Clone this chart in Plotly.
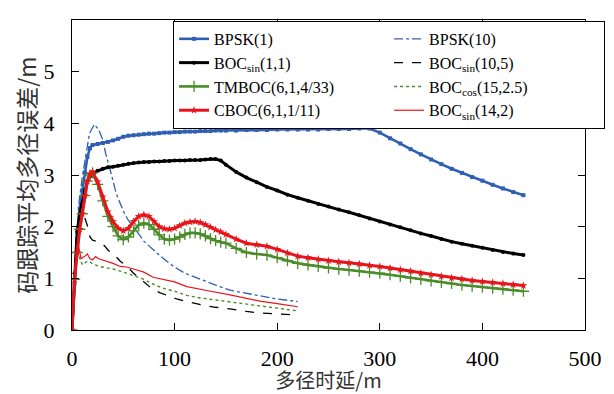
import plotly.graph_objects as go

# ---- data ----
x_main = [0, 2.5, 5, 7.5, 10, 12.5, 15, 17.5, 20, 25, 30, 35, 40, 45, 50, 55, 60, 65, 70, 75,
          80, 85, 90, 95, 100, 105, 110, 115, 120, 125, 130, 135, 140, 145, 150,
          160, 170, 180, 190, 200, 210, 220, 230, 240, 250, 260, 270, 280, 290, 300,
          310, 320, 330, 340, 350, 360, 370, 380, 390, 400, 410, 420, 430, 440]

bpsk1 = [0, 0.9, 1.75, 2.35, 2.7, 3.05, 3.35, 3.52, 3.58, 3.6, 3.62, 3.64, 3.67, 3.7, 3.74, 3.76, 3.77, 3.78, 3.79, 3.8,
         3.8, 3.81, 3.82, 3.82, 3.83, 3.83, 3.84, 3.84, 3.84, 3.85, 3.85, 3.85, 3.86, 3.86, 3.86,
         3.86, 3.87, 3.87, 3.87, 3.88, 3.88, 3.88, 3.88, 3.88, 3.89, 3.89, 3.89, 3.9, 3.9, 3.82,
         3.71, 3.61, 3.5, 3.4, 3.3, 3.21, 3.12, 3.04, 2.96, 2.89, 2.81, 2.74, 2.67, 2.61]

boc11 = [0, 1.1, 1.9, 2.25, 2.45, 2.7, 2.88, 2.97, 3.02, 3.08, 3.12, 3.15, 3.16, 3.18, 3.2, 3.22, 3.23, 3.24, 3.25, 3.25,
         3.26, 3.26, 3.27, 3.27, 3.28, 3.28, 3.28, 3.29, 3.29, 3.29, 3.3, 3.31, 3.31, 3.28, 3.2,
         3.06, 2.95, 2.86, 2.77, 2.7, 2.62, 2.56, 2.5, 2.44, 2.39, 2.33, 2.28, 2.22, 2.16, 2.1,
         2.04, 1.99, 1.93, 1.87, 1.82, 1.76, 1.71, 1.67, 1.63, 1.59, 1.55, 1.51, 1.48, 1.45]

tmboc = [0, 0.98, 1.5, 1.95, 2.25, 2.6, 2.88, 3.0, 3.04, 2.82, 2.5, 2.2, 2.0, 1.82, 1.75, 1.8, 1.92, 2.03, 2.07, 2.04,
         1.95, 1.84, 1.76, 1.74, 1.76, 1.8, 1.85, 1.88, 1.88, 1.86, 1.82, 1.77, 1.73, 1.7, 1.68,
         1.58, 1.5, 1.47, 1.45, 1.4, 1.34, 1.29, 1.26, 1.23, 1.2, 1.18, 1.16, 1.14, 1.12, 1.1,
         1.07, 1.04, 1.01, 0.98, 0.95, 0.92, 0.9, 0.87, 0.85, 0.83, 0.81, 0.79, 0.77, 0.75]

cboc = [0, 0.98, 1.5, 1.95, 2.25, 2.6, 2.88, 3.02, 3.06, 2.87, 2.58, 2.29, 2.1, 1.97, 1.92, 1.97, 2.1, 2.2, 2.23, 2.2,
        2.1, 2.0, 1.96, 1.95, 1.97, 2.02, 2.07, 2.09, 2.1, 2.08, 2.04, 1.99, 1.94, 1.9, 1.85,
        1.76, 1.68, 1.65, 1.62, 1.56, 1.49, 1.43, 1.4, 1.37, 1.34, 1.32, 1.3, 1.28, 1.25, 1.23,
        1.2, 1.17, 1.14, 1.1, 1.07, 1.04, 1.01, 0.99, 0.96, 0.94, 0.92, 0.9, 0.88, 0.86]

x_bpsk10 = [0, 4, 7, 10, 13.6, 17, 21.7, 26, 30, 33, 36.4, 40, 43, 47, 51, 55, 60, 65, 70, 79,
            85, 90, 99, 110, 120, 128, 140, 154, 170, 183, 200, 220]
bpsk10 = [0, 1.4, 2.5, 2.95, 3.35, 3.8, 3.98, 3.88, 3.68, 3.4, 3.16, 2.9, 2.65, 2.45, 2.26, 2.12, 2.0, 1.86, 1.72, 1.55,
          1.45, 1.37, 1.23, 1.1, 1.02, 0.97, 0.87, 0.77, 0.71, 0.66, 0.6, 0.55]

x_boc105 = [0, 2, 4, 7, 9.7, 12, 15.3, 17.5, 20, 25, 30, 35, 40, 43, 47, 53, 60, 70, 79, 86,
            95, 102, 112, 118, 130, 140, 154, 170, 183, 200, 220]
boc105 = [0, 0.9, 1.65, 2.1, 2.29, 2.2, 2.0, 1.8, 1.74, 1.71, 1.67, 1.55, 1.47, 1.42, 1.33, 1.25, 1.1, 0.93, 0.78, 0.72,
          0.65, 0.6, 0.55, 0.52, 0.47, 0.44, 0.41, 0.36, 0.33, 0.31, 0.29]

x_boccos = [0, 2, 4, 5.6, 8, 10.4, 14, 17, 20, 26.6, 30, 40, 47, 53, 60, 70, 80, 90, 100, 112,
            125, 140, 154, 170, 183, 200, 220]
boccos = [0, 0.8, 1.4, 1.52, 1.35, 1.26, 1.32, 1.33, 1.28, 1.23, 1.22, 1.18, 1.14, 1.1, 1.06, 0.98, 0.88, 0.8, 0.75, 0.67,
          0.62, 0.58, 0.55, 0.5, 0.46, 0.42, 0.37]

x_boc142 = [0, 2, 3.5, 5.6, 8.8, 12, 15, 17.5, 20, 23, 26, 29, 34, 40, 47, 53, 60, 70, 79, 86,
            100, 112, 118, 130, 154, 170, 183, 200, 220]
boc142 = [0, 1.0, 1.5, 1.71, 1.38, 1.42, 1.47, 1.38, 1.36, 1.42, 1.38, 1.36, 1.33, 1.29, 1.23, 1.22, 1.18, 1.12, 1.02, 0.99,
          0.93, 0.84, 0.82, 0.77, 0.68, 0.61, 0.56, 0.51, 0.45]

names = ["BPSK(1)", "BPSK(10)", "BOC<sub>sin</sub>(1,1)", "BOC<sub>sin</sub>(10,5)",
         "TMBOC(6,1,4/33)", "BOC<sub>cos</sub>(15,2.5)", "CBOC(6,1,1/11)", "BOC<sub>sin</sub>(14,2)"]
x_ticks = [0, 100, 200, 300, 400, 500]
y_ticks = [0, 1, 2, 3, 4, 5, 6]

BLUE = "#2f5fb5"
GREEN = "#4a8c2a"
RED = "#e8141c"
BLACK = "#000000"
SERIF = "Liberation Serif, Times New Roman, serif"

fig = go.Figure()

# thin / dashed curves (drawn first)
fig.add_trace(go.Scatter(x=x_bpsk10, y=bpsk10, name=names[1], mode="lines",
                         line=dict(color=BLUE, width=1.3, dash="dashdot"), legendrank=2))
fig.add_trace(go.Scatter(x=x_boc105, y=boc105, name=names[3], mode="lines",
                         line=dict(color=BLACK, width=1.3, dash="dash"), legendrank=4))
fig.add_trace(go.Scatter(x=x_boccos, y=boccos, name=names[5], mode="lines",
                         line=dict(color=GREEN, width=1.4, dash="dot"), legendrank=6))
fig.add_trace(go.Scatter(x=x_boc142, y=boc142, name=names[7], mode="lines",
                         line=dict(color=RED, width=1.2), legendrank=8))

# marked curves
fig.add_trace(go.Scatter(x=x_main, y=bpsk1, name=names[0], mode="lines+markers",
                         line=dict(color=BLUE, width=2.6),
                         marker=dict(symbol="square", size=4, color=BLUE), legendrank=1))
fig.add_trace(go.Scatter(x=x_main, y=boc11, name=names[2], mode="lines+markers",
                         line=dict(color=BLACK, width=3),
                         marker=dict(symbol="circle", size=4, color=BLACK), legendrank=3))
fig.add_trace(go.Scatter(x=x_main, y=tmboc, name=names[4], mode="lines+markers",
                         line=dict(color=GREEN, width=2.6),
                         marker=dict(symbol="cross-thin", size=8, color=GREEN,
                                     line=dict(color=GREEN, width=1.3)), legendrank=5))
fig.add_trace(go.Scatter(x=x_main, y=cboc, name=names[6], mode="lines+markers",
                         line=dict(color=RED, width=3),
                         marker=dict(symbol="star", size=6, color=RED), legendrank=7))

axis_common = dict(showline=True, linecolor="black", linewidth=1.2, mirror="ticks",
                   ticks="inside", ticklen=7, tickcolor="black", tickwidth=1,
                   showgrid=False, zeroline=False, automargin=False,
                   tickfont=dict(family=SERIF, size=22, color="black"))

fig.update_xaxes(range=[0, 500], tickvals=x_ticks, ticktext=[str(v) for v in x_ticks],
                 title=dict(text="多径时延/m", font=dict(family="Noto Sans CJK SC", size=20, color="#333333"),
                            standoff=9),
                 ticklabelstandoff=8, **axis_common)
fig.update_yaxes(range=[0, 6], tickvals=y_ticks, ticktext=[str(v) for v in y_ticks],
                 title=dict(text="码跟踪平均多径误差/m", font=dict(family="Noto Sans CJK SC", size=23, color="#333333"),
                            standoff=0),
                 ticklabelstandoff=12, **axis_common)

# the page body adds an 8px margin, so the figure is 8px smaller and margins shifted
fig.update_layout(
    width=606, height=386,
    margin=dict(l=64, r=29, t=12, b=64, autoexpand=False),
    paper_bgcolor="white", plot_bgcolor="white",
    showlegend=True,
    legend=dict(orientation="h", x=0.197, y=0.997, xanchor="left", yanchor="top",
                entrywidth=170, entrywidthmode="pixels",
                bgcolor="white", bordercolor="black", borderwidth=1,
                font=dict(family=SERIF, size=16, color="black"),
                tracegroupgap=0, itemwidth=30),
)

fig.write_html("out.html")
